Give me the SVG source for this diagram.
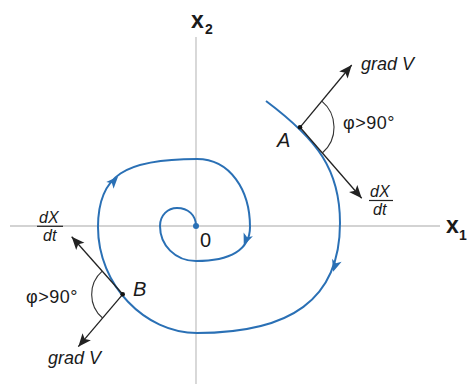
<svg xmlns="http://www.w3.org/2000/svg" xmlns:xlink="http://www.w3.org/1999/xlink" width="467" height="384" viewBox="0 0 467 384">
<style>
.axis{stroke:#c4c4c4;stroke-width:1.3;fill:none}
.spiral{stroke:#2a70b5;stroke-width:2;fill:none}
.vec{stroke:#222;stroke-width:1.3;fill:none}
.arc{stroke:#333;stroke-width:1.1;fill:none}
.t{font-family:"Liberation Sans",Arial,sans-serif;fill:#1a1a1a}
.it{font-style:italic}
.lbl{font-size:18px}
.frac{font-size:16px}
.ax{font-size:23px;font-weight:bold}
.sub{font-size:14px;font-weight:bold}
</style>
<defs>
<marker id="ah" markerUnits="userSpaceOnUse" markerWidth="15" markerHeight="12" viewBox="-14 -6 15 12" refX="0" refY="0" orient="auto">
<path d="M0,0 L-13,-5.5 L-10,0 L-13,5.5 Z" fill="#222"/>
</marker>
<path id="barb" d="M6,0 L-6,-5 L-3,0 L-6,5 Z" fill="#2a70b5"/>
</defs>
<g id="axes">
<line class="axis" x1="10" y1="226" x2="440" y2="226"/>
<line class="axis" x1="196" y1="37" x2="196" y2="384"/>
<text class="t ax" x="191" y="28">x</text>
<text class="t sub" x="205" y="34">2</text>
<text class="t ax" x="446" y="233">x</text>
<text class="t sub" x="459" y="240">1</text>
</g>
<g id="spiral">
<path class="spiral" d="M266,101 C318,140 340,170 340,223 C340,300 290,333 197,333 C145,333 98,285 98,227 C98,175 125,159 197,159 C230,159 250,190 250,227 C250,250 230,261 196,261 C175,261 160,245 160,226 C160,215 168,208 177,208 C188,208 196,215 196,226"/>
<use xlink:href="#barb" transform="translate(246,240) rotate(112)"/>
<use xlink:href="#barb" transform="translate(335,266) rotate(108)"/>
<use xlink:href="#barb" transform="translate(114,181) rotate(-47)"/>
</g>
<g id="origin">
<circle cx="196" cy="226" r="3" fill="#2a70b5"/>
<text class="t" x="200" y="247" font-size="20">0</text>
</g>
<g id="pointA">
<line class="vec" x1="300" y1="127.3" x2="351.7" y2="65" marker-end="url(#ah)"/>
<line class="vec" x1="300" y1="127.3" x2="361.7" y2="198.3" marker-end="url(#ah)"/>
<path class="arc" d="M321.8,101.2 A34,34 0 0 1 322.3,153"/>
<circle cx="300" cy="127.3" r="2.3" fill="#111"/>
<text class="t it" x="277" y="147" font-size="20">A</text>
<text class="t it lbl" x="361" y="70">grad V</text>
<text class="t lbl" x="343" y="129" letter-spacing="0.5">φ&gt;90°</text>
<text class="t it frac" x="370" y="197">dX</text>
<line x1="369" y1="200.5" x2="393" y2="200.5" stroke="#222" stroke-width="1.2"/>
<text class="t it frac" x="373" y="215">dt</text>
</g>
<g id="pointB">
<line class="vec" x1="122.7" y1="294.3" x2="71.7" y2="236.7" marker-end="url(#ah)"/>
<line class="vec" x1="122.7" y1="294.3" x2="78.3" y2="346.7" marker-end="url(#ah)"/>
<path class="arc" d="M102.2,271.1 A31,31 0 0 0 102.6,318"/>
<circle cx="122.7" cy="294.3" r="2.3" fill="#111"/>
<text class="t it" x="133" y="296" font-size="20">B</text>
<text class="t it lbl" x="48" y="364">grad V</text>
<text class="t lbl" x="26" y="303" letter-spacing="0.5">φ&gt;90°</text>
<text class="t it frac" x="39" y="223">dX</text>
<line x1="37" y1="226.3" x2="63" y2="226.3" stroke="#222" stroke-width="1.2"/>
<text class="t it frac" x="43" y="241">dt</text>
</g>
</svg>
